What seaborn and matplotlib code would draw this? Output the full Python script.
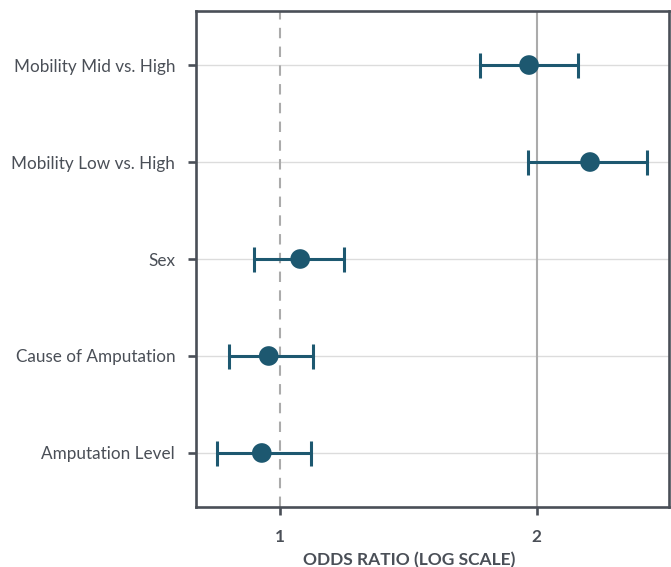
import matplotlib
matplotlib.use("Agg")
import matplotlib.pyplot as plt
import seaborn as sns
import pandas as pd
from matplotlib.ticker import FixedLocator, NullLocator

categories = ["Mobility Mid vs. High", "Mobility Low vs. High", "Sex",
              "Cause of Amputation", "Amputation Level"]
odds_ratio = [1.959, 2.310, 1.055, 0.969, 0.951]
ci_low = [1.716, 1.954, 0.932, 0.871, 0.843]
ci_high = [2.235, 2.695, 1.189, 1.091, 1.085]
x_ticks = [1, 2]
x_tick_labels = ["1", "2"]

df = pd.DataFrame({"cat": categories, "or": odds_ratio, "lo": ci_low, "hi": ci_high})

sns.set_theme(style="white")
plt.rcParams["font.family"] = ["Lato", "DejaVu Sans"]

dark = "#4a4f57"
col = "#1d5870"

fig = plt.figure(figsize=(6.71, 5.67), dpi=100)
ax = fig.add_axes([196 / 671, 1 - 507 / 567, (669 - 196) / 671, (507 - 11) / 567])

ax.set_xscale("log")
ypos = list(range(len(categories)))
for y in ypos:
    ax.axhline(y, color="#dcdcdc", lw=1, zorder=0)
ax.axvline(2, color="#ababab", lw=1.5, zorder=0)
ax.axvline(1, color="#ababab", lw=1.5, ls=(0, (5, 4)), zorder=0)

ax.errorbar(df["or"], ypos,
            xerr=[df["or"] - df["lo"], df["hi"] - df["or"]],
            fmt="none", ecolor=col, elinewidth=2.2, capsize=9, capthick=2.2, zorder=2)
sns.scatterplot(data=df, x="or", y="cat", ax=ax, color=col, s=200,
                edgecolor="none", zorder=3, legend=False)

ax.set_xlim(0.796, 2.86)
ax.set_ylim(len(categories) - 1 + 0.557, -0.557)
ax.xaxis.set_major_locator(FixedLocator(x_ticks))
ax.xaxis.set_minor_locator(NullLocator())
ax.set_xticklabels(x_tick_labels)
ax.set_yticks(ypos)
ax.set_yticklabels(categories)

for s in ax.spines.values():
    s.set_color(dark)
    s.set_linewidth(1.9)
    s.set_visible(True)

ax.tick_params(axis="y", which="major", left=True, length=6, width=1.9, color=dark,
               labelcolor=dark, labelsize=12.3, pad=9)
ax.tick_params(axis="x", which="major", bottom=True, length=6, width=1.9, color=dark,
               labelcolor=dark, labelsize=12.3, pad=10)
for lab in ax.get_xticklabels():
    lab.set_fontweight("bold")

ax.set_xlabel("ODDS RATIO (LOG SCALE)", fontsize=12.5, fontweight="bold", color=dark)
ax.xaxis.set_label_coords(0.451, -0.09)
ax.set_ylabel("")

fig.savefig("out.png", dpi=100)
